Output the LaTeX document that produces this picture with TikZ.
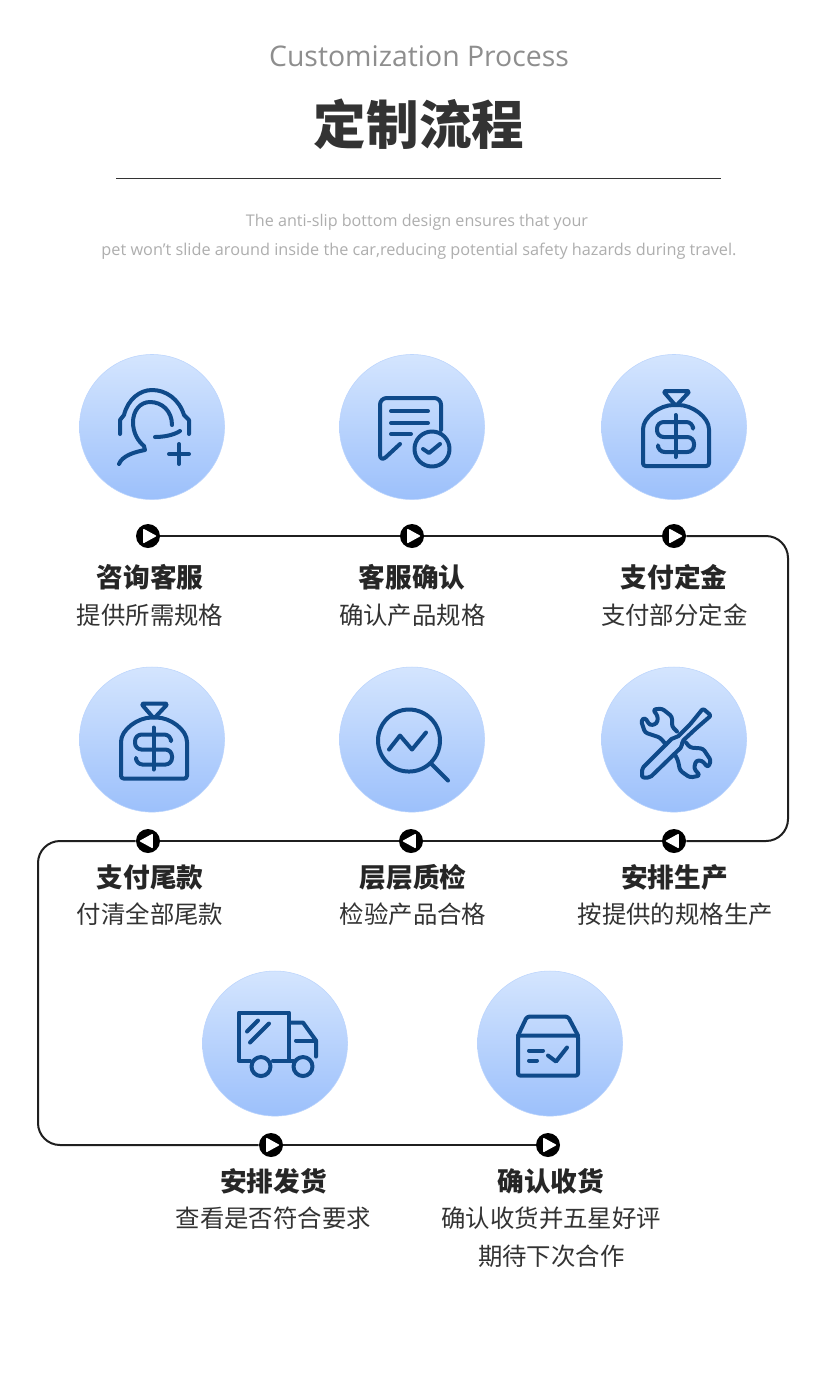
\documentclass[tikz,border=0pt]{standalone}
\usepackage{fontspec}
\usepackage{tikz}
\setmainfont{Open Sans}
\newfontfamily\cjk{Noto Sans CJK SC}
\definecolor{titlegray}{HTML}{333333}
\definecolor{engray}{HTML}{8E8E8E}
\definecolor{notegray}{HTML}{AEAEAE}
\definecolor{icondark}{HTML}{0F4A8A}
\definecolor{discup}{HTML}{D4E5FE}
\definecolor{discdown}{HTML}{9CC0FB}
\tikzset{
	disc/.style={circle, minimum size=108.8pt, inner sep=0pt, top color=discup, bottom color=discdown, draw=discup!55!discdown, line width=.4pt},
	marker/.style={circle, minimum size=18pt, inner sep=0pt, fill=black},
	mkright/.style={marker, path picture={\fill[white, rounded corners=.6pt] (-3.6pt,5.6pt) -- (6.6pt,0pt) -- (-3.6pt,-5.6pt) -- cycle;}},
	mkleft/.style={marker, path picture={\fill[white, rounded corners=.6pt] (3.6pt,5.6pt) -- (-6.6pt,0pt) -- (3.6pt,-5.6pt) -- cycle;}},
	heading/.style={font=\cjk\bfseries\fontsize{20}{24}\selectfont, text=black!85, inner sep=0pt, xshift=1pt},
	detail/.style={font=\cjk\fontsize{18.3}{28.5}\selectfont, text=titlegray, align=center, inner sep=0pt, xshift=1pt},
	flowline/.style={line width=1.5pt, draw=black!88},
	iconline/.style={line width=3pt, draw=icondark, line cap=round, line join=round},
	pics/agent/.style={code={
		\draw [iconline] (-32,7) -- (-32,-7) -- (-28,-12) .. controls (-24,-28) and (-12,-37) .. (0,-37) .. controls (14,-37) and (27,-28) .. (32,-12) -- (37,-7) -- (37,7);
		\draw [iconline] (20,-2) .. controls (20,-16) and (10,-25) .. (-2,-25) .. controls (-12,-25) and (-19,-16) .. (-19,-5) .. controls (-19,6) and (-14,14) .. (-8,19) -- (-7,23) .. controls (-18,25) and (-30,29) .. (-33,37);
		\draw [iconline] (3,10) .. controls (12,10) and (22,8) .. (28,4);
		\draw [iconline] (27,17) -- (27,37) (17,27) -- (37,27);
	}},
	pics/sheet/.style={code={
		\draw [iconline] (29,3) [rounded corners=5pt] -- (29,-29) -- (-32,-29) [sharp corners] -- (-32,28) .. controls (-32,32) and (-29,33) .. (-26,30) -- (-12,17);
		\draw [iconline] (-21,-16) -- (16,-16) (-21,-4) -- (16,-4) (-21,7) -- (-1,7);
		\draw [iconline] (20,22) circle (17.5);
		\draw [iconline] (11,22) -- (17,26) -- (28,17);
	}},
	pics/moneybag/.style={code={
		\draw [iconline, rounded corners=2pt] (2,-21) -- (-11,-36) -- (16,-36) -- cycle;
		\draw [iconline, rounded corners=2pt] (-31,39) -- (-31,5) .. controls (-31,-10) and (-14,-22) .. (2,-22) .. controls (18,-22) and (35,-10) .. (35,5) -- (35,39) -- cycle;
		\draw [iconline] (1.5,-12) -- (1.5,30);
		\draw [iconline, rounded corners=5pt] (19,0) -- (19,-5) -- (-17,-5) -- (-17,10) -- (20,10) -- (20,25) -- (-16,25) -- (-16,20);
	}},
	pics/lens/.style={code={
		\draw [iconline] (-3,1) circle (31);
		\draw [iconline] (19,24) -- (36,41);
		\draw [iconline] (-23,10) -- (-12,-4) -- (0,10) -- (14,-7);
	}},
	pics/tools/.style={code={
		\draw [iconline, rounded corners=1.5pt] (-32,29) -- (-1,-2) -- (3,-2) -- (16,-15) -- (29,-31) -- (37,-24) -- (22,-11) -- (8,2) -- (8,7) -- (-24,38) -- (-32,38) -- cycle;
		\draw [iconline, rounded corners=2pt] (-8,5) -- (-14,-2) -- (-29,-7) -- (-33,-19) -- (-29,-22) -- (-24,-14) -- (-17,-16) -- (-16,-23) -- (-21,-30) -- (-12,-31) -- (-2,-23) -- (-2,-13) -- (3,-8);
		\draw [iconline, rounded corners=2pt] (12,3) -- (16,8) -- (29,9) -- (37,21) -- (34,28) -- (28,21) -- (22,21) -- (20,29) -- (26,36) -- (16,38) -- (6,31) -- (4,21) -- (1,15);
	}},
	pics/truck/.style={code={
		\draw [iconline] (-25,17) -- (-36,17) -- (-36,-31) -- (14,-31) -- (14,17) -- (-2,17);
		\draw [iconline] (14,17) -- (18,17);
		\draw [iconline] (14,-21) -- (28,-21) -- (41,-3) -- (41,13);
		\draw [iconline] (21,-3) -- (41,-3);
		\draw [iconline] (-14,23) circle (9.5) (28,23) circle (9.5);
		\draw [iconline] (-28,-12) -- (-17,-23) (-25,-1) -- (-6,-20);
	}},
	pics/parcel/.style={code={
		\draw [iconline, rounded corners=1.5pt] (-32,-8) -- (-32,32) -- (28,32) -- (28,-8) -- cycle;
		\draw [iconline, rounded corners=2pt] (-32,-8) -- (-23,-27) -- (18,-27) -- (28,-8);
		\draw [iconline] (-21,7) -- (-7,7) (-21,17) -- (-13,17);
		\draw [iconline] (-2,12) -- (6,18) -- (17,4);
	}},
}

\begin{document}
\begin{tikzpicture}[x=.75pt, y=-.75pt, node distance=30pt]
\useasboundingbox [fill=white] (0,0) rectangle (839,1397);
\node (entitle) [text=engray, font=\fontsize{21.3}{25}\selectfont] at (419,56) {Customization Process};
\node (cntitle) [text=titlegray, font=\cjk\bfseries\fontsize{39.4}{46}\selectfont, below of=entitle, node distance=51pt] {定制流程};
\coordinate (ruleL) at (116,178.5);
\coordinate (ruleR) at (721,178.5);
\draw [line width=.8pt, draw=titlegray] (ruleL) -- (ruleR);
\node (noteA) [text=notegray, font=\fontsize{12.1}{14}\selectfont] at (417,222) {The anti-slip bottom design ensures that your};
\node (noteB) [text=notegray, font=\fontsize{12.2}{14}\selectfont, below of=noteA, node distance=21.75pt, xshift=1.5pt] {pet won't slide around inside the car,reducing potential safety hazards during travel.};
% discs
\node (circA) [disc] at (152,427) {};
\node (circB) [disc, right of=circA, node distance=195pt] {};
\node (circC) [disc, right of=circB, node distance=196.5pt] {};
\node (circF) [disc, below of=circA, node distance=234.4pt] {};
\node (circE) [disc, right of=circF, node distance=195pt] {};
\node (circD) [disc, right of=circE, node distance=196.5pt] {};
\node (circG) [disc, below of=circF, node distance=228pt, xshift=92.25pt] {};
\node (circH) [disc, right of=circG, node distance=206.25pt] {};
\pic at (circA) {agent};
\pic at (circB) {sheet};
\pic at (circC) {moneybag};
\pic at (circF) {moneybag};
\pic at (circE) {lens};
\pic at (circD) {tools};
\pic at (circG) {truck};
\pic at (circH) {parcel};
% markers
\node (mkA) [mkright, below of=circA, node distance=81.75pt, xshift=-3pt] {};
\node (mkB) [mkright, below of=circB, node distance=81.75pt] {};
\node (mkC) [mkright, below of=circC, node distance=81.75pt] {};
\node (mkF) [mkleft, below of=circF, node distance=76.1pt, xshift=-3pt] {};
\node (mkE) [mkleft, below of=circE, node distance=76.1pt, xshift=-.75pt] {};
\node (mkD) [mkleft, below of=circD, node distance=76.1pt] {};
\node (mkG) [mkright, below of=circG, node distance=76.1pt, xshift=-3pt] {};
\node (mkH) [mkright, below of=circH, node distance=76.1pt, xshift=-1.5pt] {};
\coordinate (edgeR) at (788,0);
\coordinate (edgeL) at (38,0);
\coordinate (cornerNE) at (edgeR |- mkC);
\coordinate (cornerSE) at (edgeR |- mkD);
\coordinate (cornerNW) at (edgeL |- mkF);
\coordinate (cornerSW) at (edgeL |- mkG);
\foreach \i/\j in {mkA/mkB,mkB/mkC,mkD/mkE,mkE/mkF,mkG/mkH}
\draw [flowline] (\i) -- (\j);
\draw [flowline, rounded corners=16.5pt] (mkC) -- (cornerNE) -- (cornerSE) -- (mkD);
\draw [flowline, rounded corners=16.5pt] (mkF) -- (cornerNW) -- (cornerSW) -- (mkG);
% labels
\node (headA) [heading, below of=mkA, node distance=30.75pt, xshift=.5pt] {咨询客服};
\node (infoA) [detail, below of=mkA, node distance=59.25pt, xshift=.5pt] {提供所需规格};
\node (headB) [heading, below of=mkB, node distance=30.75pt, xshift=-1pt] {客服确认};
\node (infoB) [detail, below of=mkB, node distance=59.25pt, xshift=-.75pt] {确认产品规格};
\node (headC) [heading, below of=mkC, node distance=30.75pt, xshift=-1pt] {支付定金};
\node (infoC) [detail, below of=mkC, node distance=59.25pt, xshift=-.75pt] {支付部分定金};
\node (headF) [heading, below of=mkF, node distance=27pt, xshift=.5pt] {支付尾款};
\node (infoF) [detail, below of=mkF, node distance=54.75pt, xshift=.5pt] {付清全部尾款};
\node (headE) [heading, below of=mkE, node distance=27pt, xshift=.5pt] {层层质检};
\node (infoE) [detail, below of=mkE, node distance=54.75pt, xshift=.5pt] {检验产品合格};
\node (headD) [heading, below of=mkD, node distance=27pt, xshift=-.75pt] {安排生产};
\node (infoD) [detail, below of=mkD, node distance=54.75pt] {按提供的规格生产};
\node (headG) [heading, below of=mkG, node distance=27pt, xshift=.75pt] {安排发货};
\node (infoG) [detail, below of=mkG, node distance=54.75pt, xshift=.75pt] {查看是否符合要求};
\node (headH) [heading, below of=mkH, node distance=27pt, xshift=1pt] {确认收货};
\node (infoH) [detail, below of=mkH, node distance=69pt, xshift=1.5pt] {确认收货并五星好评\\期待下次合作};
\end{tikzpicture}
\end{document}
